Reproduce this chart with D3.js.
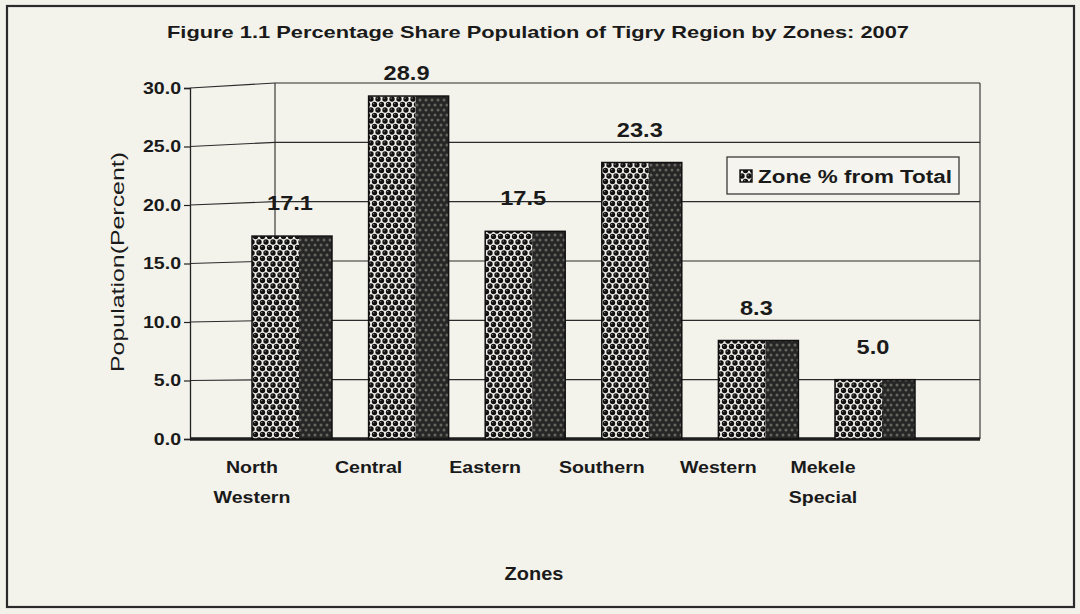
<!DOCTYPE html>
<html>
<head>
<meta charset="utf-8">
<script src="https://cdn.jsdelivr.net/npm/d3@7"></script>
<style>
  html, body { margin: 0; padding: 0; background: #f2f1ea; }
  svg { display: block; }
  text { font-family: "Liberation Sans", Arial, sans-serif; fill: #1a1a1a; }
</style>
</head>
<body>
<svg id="chart" width="1080" height="614"></svg>
<script>
// ---- data ----
const categories = [["North", "Western"], ["Central"], ["Eastern"], ["Southern"], ["Western"], ["Mekele", "Special"]];
const values = [17.1, 28.9, 17.5, 23.3, 8.3, 5.0];
const valueLabels = ["17.1", "28.9", "17.5", "23.3", "8.3", "5.0"];
const yTicks = [0, 5, 10, 15, 20, 25, 30];
const titleText = "Figure 1.1 Percentage Share Population of Tigry Region by Zones: 2007";
const yAxisTitle = "Population(Percent)";
const xAxisTitle = "Zones";
const legendLabel = "Zone % from Total";

// ---- layout ----
const svg = d3.select("#chart");
const xFront = 190, xBack = 275, xRight = 980;
const yFront = d3.scaleLinear().domain([0, 30]).range([439, 88]);
const yBack = d3.scaleLinear().domain([0, 30]).range([439, 83]);
const catKeys = categories.map(c => c.join(" "));
const x = d3.scaleBand().domain(catKeys)
  .range([233.7, 933.3]).paddingInner(0.314).paddingOuter(0.157);
const frontW = 47;

function fit(sel, w) {
  sel.attr("textLength", w).attr("lengthAdjust", "spacingAndGlyphs");
}
function stretch(sel, k) {
  sel.each(function () {
    const l = this.getComputedTextLength();
    d3.select(this).attr("textLength", l * k).attr("lengthAdjust", "spacingAndGlyphs");
  });
}

// ---- patterns ----
const defs = svg.append("defs");
const pf = defs.append("pattern").attr("id", "dotsFront")
  .attr("patternUnits", "userSpaceOnUse").attr("width", 7).attr("height", 11);
pf.append("rect").attr("width", 7).attr("height", 11).attr("fill", "#f2f1ec");
[[0, 0], [7, 0], [0, 11], [7, 11], [3.5, 5.5]].forEach(([cx, cy]) => {
  pf.append("circle").attr("cx", cx).attr("cy", cy).attr("r", 2.7).attr("fill", "#121212");
  pf.append("circle").attr("cx", cx - 0.8).attr("cy", cy - 0.9).attr("r", 0.7).attr("fill", "#9a9a9a");
});
const ps = defs.append("pattern").attr("id", "dotsSide")
  .attr("patternUnits", "userSpaceOnUse").attr("width", 6).attr("height", 10);
ps.append("rect").attr("width", 6).attr("height", 10).attr("fill", "#262626");
[[0, 0], [6, 0], [0, 10], [6, 10], [3, 5]].forEach(([cx, cy]) => {
  ps.append("circle").attr("cx", cx).attr("cy", cy).attr("r", 1.5).attr("fill", "#66665f");
});

// ---- outer frame ----
svg.append("rect").attr("x", 7).attr("y", 6).attr("width", 1067).attr("height", 601)
  .attr("fill", "#f3f2eb").attr("stroke", "#2a2a2a").attr("stroke-width", 2.2);

// ---- title ----
svg.append("text").attr("x", 538).attr("y", 38).attr("text-anchor", "middle")
  .attr("font-size", 17).attr("font-weight", "bold").text(titleText).call(fit, 742);

// ---- walls & gridlines ----
const grid = svg.append("g").attr("stroke", "#2b2b2b").attr("stroke-width", 1.1).attr("fill", "none");
yTicks.forEach(v => {
  if (v === 0) return;
  grid.append("line").attr("x1", xFront).attr("y1", yFront(v)).attr("x2", xBack).attr("y2", yBack(v));
  grid.append("line").attr("x1", xBack).attr("y1", yBack(v)).attr("x2", xRight).attr("y2", yBack(v));
});
grid.append("line").attr("x1", xBack).attr("y1", yBack(30)).attr("x2", xBack).attr("y2", yBack(0));
grid.append("line").attr("x1", xRight).attr("y1", yBack(30)).attr("x2", xRight).attr("y2", yBack(0));

// ---- y axis ----
const yAxis = svg.append("g").attr("transform", `translate(${xFront},0)`)
  .call(d3.axisLeft(yFront).tickValues(yTicks).tickFormat(d3.format(".1f")).tickSize(6).tickPadding(3));
yAxis.select(".domain").attr("stroke", "#222").attr("stroke-width", 1.3);
yAxis.selectAll(".tick line").attr("stroke", "#222").attr("stroke-width", 1.2);
yAxis.selectAll(".tick text").attr("font-size", 17).attr("font-weight", "bold")
  .attr("font-family", "Liberation Sans, Arial, sans-serif").attr("fill", "#1a1a1a").call(stretch, 1.15);

// ---- floor ----
svg.append("line").attr("x1", xFront).attr("y1", yFront(0)).attr("x2", xRight).attr("y2", yBack(0))
  .attr("stroke", "#1e1e1e").attr("stroke-width", 3.4);

// ---- bars ----
const bars = svg.append("g").selectAll("g").data(values).join("g");
bars.append("rect").attr("x", (d, i) => x(catKeys[i])).attr("y", d => yBack(d))
  .attr("width", frontW).attr("height", d => yBack(0) - yBack(d)).attr("fill", "url(#dotsFront)");
bars.append("rect").attr("x", (d, i) => x(catKeys[i]) + frontW).attr("y", d => yBack(d))
  .attr("width", x.bandwidth() - frontW).attr("height", d => yBack(0) - yBack(d)).attr("fill", "url(#dotsSide)");
bars.append("rect").attr("x", (d, i) => x(catKeys[i])).attr("y", d => yBack(d))
  .attr("width", x.bandwidth()).attr("height", d => yBack(0) - yBack(d))
  .attr("fill", "none").attr("stroke", "#111").attr("stroke-width", 1.5);

// ---- value labels ----
svg.append("g").selectAll("text").data(values).join("text")
  .attr("x", (d, i) => x(catKeys[i]) + 38)
  .attr("y", d => Math.max(80, yBack(d) - 26))
  .attr("text-anchor", "middle").attr("font-size", 20).attr("font-weight", "bold")
  .text((d, i) => valueLabels[i]).call(stretch, 1.18);

// ---- category labels ----
const cl = svg.append("g").selectAll("text").data(categories).join("text")
  .attr("text-anchor", "middle").attr("font-size", 17).attr("font-weight", "bold");
cl.each(function (lines, i) {
  const t = d3.select(this);
  lines.forEach((ln, j) => {
    t.append("tspan").attr("x", x(catKeys[i]) + (lines.length > 1 && i === categories.length - 1 ? -12 : 0))
      .attr("y", j === 0 ? 473 : 503).text(ln);
  });
});
cl.selectAll("tspan").call(stretch, 1.15);

// ---- axis titles ----
svg.append("text").attr("transform", "translate(124,262) rotate(-90)").attr("text-anchor", "middle")
  .attr("font-size", 19).text(yAxisTitle).call(fit, 220);
svg.append("text").attr("x", 534).attr("y", 580).attr("text-anchor", "middle")
  .attr("font-size", 19).attr("font-weight", "bold").text(xAxisTitle).call(stretch, 1.05);

// ---- legend ----
const lg = svg.append("g");
lg.append("rect").attr("x", 727).attr("y", 157).attr("width", 232).attr("height", 37)
  .attr("fill", "#f5f4ee").attr("stroke", "#2a2a2a").attr("stroke-width", 1.2);
lg.append("rect").attr("x", 740).attr("y", 170).attr("width", 12).attr("height", 12)
  .attr("fill", "url(#dotsFront)").attr("stroke", "#111").attr("stroke-width", 1.4);
lg.append("text").attr("x", 758).attr("y", 183).attr("font-size", 18).attr("font-weight", "bold")
  .text(legendLabel).call(fit, 194);
</script>
</body>
</html>
